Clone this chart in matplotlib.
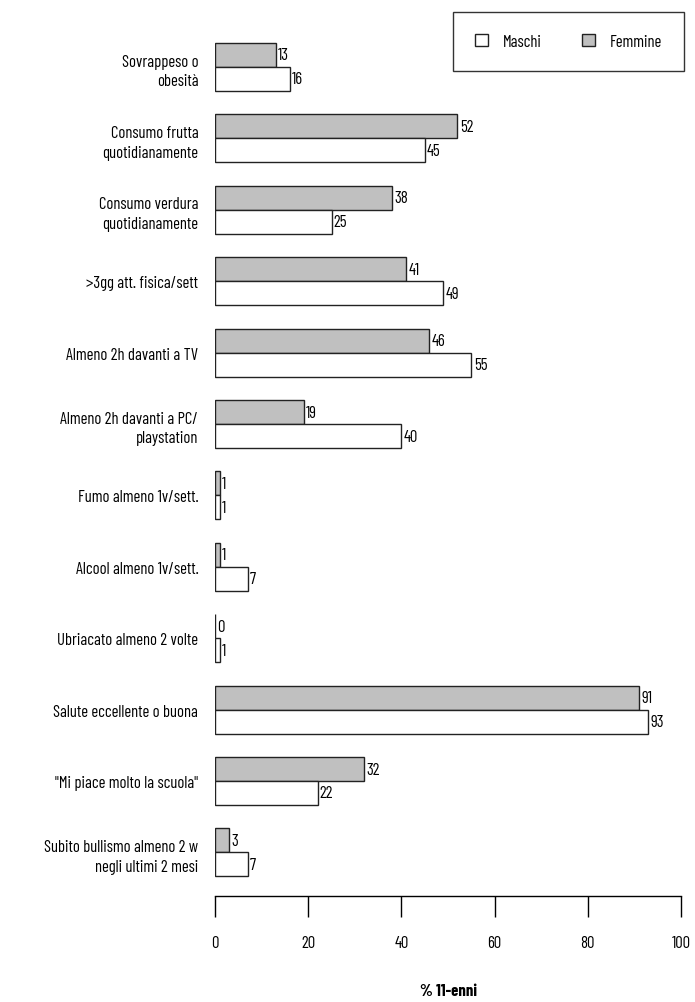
import matplotlib
matplotlib.use("Agg")
import matplotlib.pyplot as plt
from matplotlib import font_manager
from matplotlib.patches import Patch

names = {f.name for f in font_manager.fontManager.ttflist}
fam = [n for n in ["Barlow Condensed", "Archivo Narrow"] if n in names] + ["DejaVu Sans"]
plt.rcParams['font.family'] = fam

categories = ["Sovrappeso o\nobesità", "Consumo frutta\nquotidianamente",
              "Consumo verdura\nquotidianamente", ">3gg att. fisica/sett",
              "Almeno 2h davanti a TV", "Almeno 2h davanti a PC/\nplaystation",
              "Fumo almeno 1v/sett.", "Alcool almeno 1v/sett.",
              "Ubriacato almeno 2 volte", "Salute eccellente o buona",
              "\"Mi piace molto la scuola\"",
              "Subito bullismo almeno 2 w\nnegli ultimi 2 mesi"]
femmine = [13, 52, 38, 41, 46, 19, 1, 1, 0, 91, 32, 3]
maschi = [16, 45, 25, 49, 55, 40, 1, 7, 1, 93, 22, 7]
xticks = [0, 20, 40, 60, 80, 100]

W, H = 695, 1003
fs = 12
fig = plt.figure(figsize=(W / 100, H / 100), dpi=100)
top_px, bot_px = 30, 897
ax = fig.add_axes([215 / W, 1 - bot_px / H, 466 / W, (bot_px - top_px) / H])

step = 71.4
y0 = 68
ax.set_ylim((bot_px - y0) / step, (top_px - y0) / step)
ax.set_xlim(0, 100)

bh = 24 / step
pos = list(range(len(categories)))
fy = [p - bh / 2 for p in pos]
my = [p + bh / 2 for p in pos]
ax.barh(fy, femmine, height=bh, color="#c0c0c0", edgecolor="#222222", linewidth=1)
ax.barh(my, maschi, height=bh, color="white", edgecolor="#222222", linewidth=1)

for y, v in zip(fy, femmine):
    ax.text(v + 0.5, y, str(v), va="center", ha="left", fontsize=fs)
for y, v in zip(my, maschi):
    ax.text(v + 0.5, y, str(v), va="center", ha="left", fontsize=fs)

ax.set_yticks(pos)
ax.set_yticklabels(categories, fontsize=fs, linespacing=1.4)
ax.tick_params(axis="y", length=0, pad=12)
ax.set_xticks(xticks)
ax.set_xticklabels([str(t) for t in xticks], fontsize=fs)
ax.tick_params(axis="x", length=15, width=1, pad=13, direction="out")
for s in ["top", "right", "left"]:
    ax.spines[s].set_visible(False)
ax.spines["bottom"].set_linewidth(1)
ax.set_xlabel("% 11-enni", fontsize=fs, fontweight="bold", labelpad=24)

handles = [Patch(facecolor="white", edgecolor="#222222", label="Maschi"),
           Patch(facecolor="#c0c0c0", edgecolor="#222222", label="Femmine")]
leg = fig.legend(handles=handles, ncol=2, loc="upper right",
                 bbox_to_anchor=(684 / W, 1 - 13 / H), borderaxespad=0,
                 frameon=True, fancybox=False, edgecolor="black", fontsize=fs,
                 handlelength=0.8, handleheight=0.8, columnspacing=2.4,
                 borderpad=1.3, handletextpad=0.9)
leg.get_frame().set_linewidth(1)

fig.savefig("out.png", dpi=100)
